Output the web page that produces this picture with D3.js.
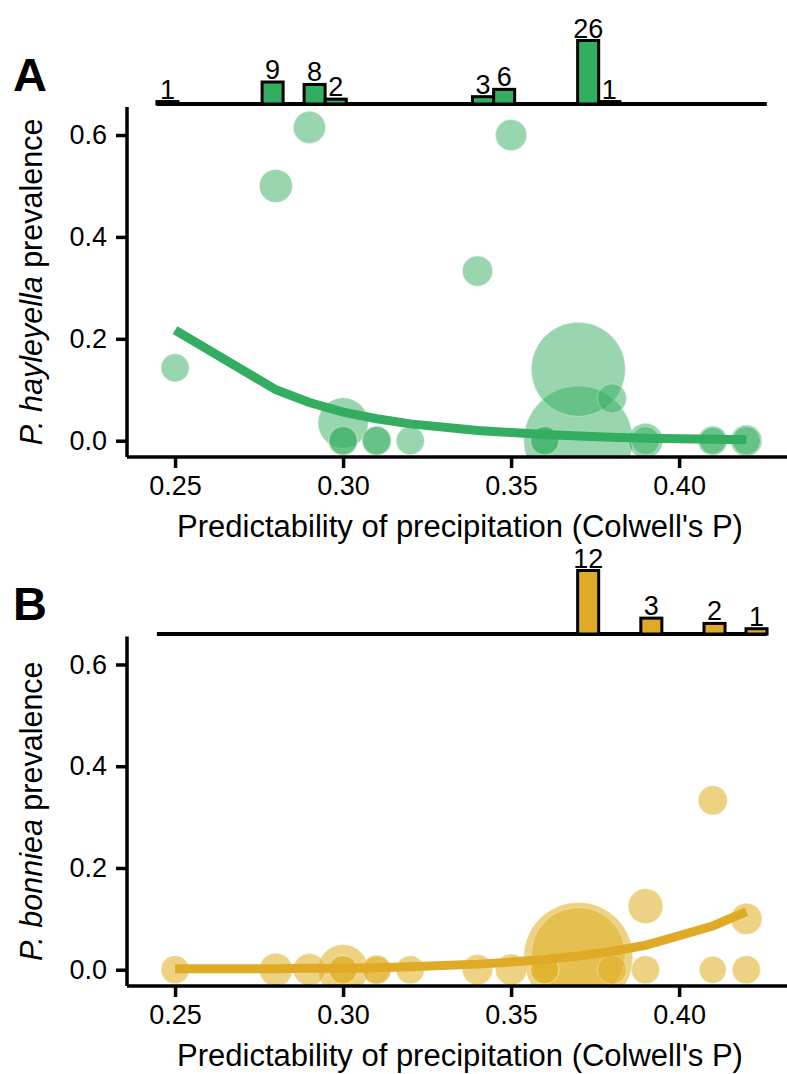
<!DOCTYPE html>
<html>
<head>
<meta charset="utf-8">
<script src="https://cdn.jsdelivr.net/npm/d3@7"></script>
<style>
  body { margin: 0; background: #fff; }
  text { font-family: "Liberation Sans", Arial, sans-serif; fill: #000; }
</style>
</head>
<body>
<script>
// sites (same sites in both panels), sample size drives the bubble size
var siteX = [0.25, 0.28, 0.29, 0.30, 0.30, 0.30, 0.31, 0.31, 0.32, 0.34, 0.35, 0.36, 0.36, 0.37, 0.37, 0.38, 0.39, 0.39, 0.41, 0.41, 0.42, 0.42];
var siteN = [7, 12, 11, 40, 8, 7, 8, 7, 7, 9, 10, 8, 7, 186, 260, 8, 14, 7, 8, 6, 10, 7];
var prevA = [0.143, 0.50, 0.615, 0.035, 0, 0, 0, 0, 0, 0.333, 0.60, 0, 0, 0.14, 0, 0.083, 0, 0, 0, 0, 0, 0];
var prevB = [0, 0, 0, 0, 0, 0, 0, 0, 0, 0, 0, 0, 0, 0.03, 0.025, 0, 0.125, 0, 0.333, 0, 0.10, 0];

// fitted curves
var fitX = [0.25, 0.28, 0.29, 0.30, 0.31, 0.32, 0.34, 0.35, 0.36, 0.37, 0.38, 0.39, 0.41, 0.42];
var fitA = [0.217, 0.100, 0.075, 0.056, 0.043, 0.033, 0.020, 0.016, 0.012, 0.009, 0.007, 0.005, 0.003, 0.002];
var fitB = [0.002, 0.002, 0.003, 0.003, 0.004, 0.006, 0.011, 0.015, 0.020, 0.027, 0.036, 0.048, 0.086, 0.114];

// marginal histograms of infected counts (bin start, count)
var histStart = 0.2446, histEnd = 0.4261, binW = 0.00626;
var binsA = [0.2446, 0.2759, 0.2884, 0.2947, 0.3385, 0.3448, 0.3698, 0.3761];
var countsA = [1, 9, 8, 2, 3, 6, 26, 1];
var binsB = [0.3698, 0.3886, 0.4074, 0.4199];
var countsB = [12, 3, 2, 1];

var xTicks = [0.25, 0.30, 0.35, 0.40];
var yTicks = [0, 0.2, 0.4, 0.6];
var xTitle = "Predictability of precipitation (Colwell's P)";

var W = 787, H = 1074;
var svg = d3.select("body").append("svg").attr("width", W).attr("height", H);

var x = d3.scaleLinear().domain([0.2357, 0.4321]).range([127, 787]);
var r = d3.scalePow().exponent(0.5).domain([6, 260]).range([13.5, 54.5]);

var panels = [
    {label: "A", species: "hayleyella", prev: prevA, fit: fitA, bins: binsA, counts: countsA,
     color: "#33ad60", ptColor: "#33ad60", ptAlpha: 0.5, top: 107, bottom: 457, histBase: 104, labelY: 91},
    {label: "B", species: "bonniea", prev: prevB, fit: fitB, bins: binsB, counts: countsB,
     color: "#dfaa26", ptColor: "#e0b22a", ptAlpha: 0.58, top: 636.5, bottom: 986, histBase: 634, labelY: 620}
];

panels.forEach(function(p, i) {
    var y = d3.scaleLinear().domain([-0.032, 0.655]).range([p.bottom, p.top]);
    var g = svg.append("g");

    // clip the bubbles to the panel
    svg.append("clipPath").attr("id", "clip" + i)
        .append("rect").attr("x", 127).attr("y", p.top)
        .attr("width", 787 - 127).attr("height", p.bottom - p.top);

    var sites = siteX.map(function(v, k) { return {x: v, n: siteN[k], p: p.prev[k]}; });
    // big ones first so small ones sit on top
    sites.sort(function(a, b) { return b.n - a.n; });

    g.append("g").attr("clip-path", "url(#clip" + i + ")")
        .selectAll("circle").data(sites).enter().append("circle")
        .attr("cx", function(d) { return x(d.x); })
        .attr("cy", function(d) { return y(d.p); })
        .attr("r", function(d) { return r(d.n); })
        .style("fill", p.ptColor).style("fill-opacity", p.ptAlpha)
        .style("stroke", "#fff").style("stroke-opacity", 0.35).style("stroke-width", 1);

    // fitted line
    var line = d3.line()
        .x(function(d, k) { return x(fitX[k]); })
        .y(function(d) { return y(d); });
    g.append("path").datum(p.fit)
        .attr("d", line)
        .style("fill", "none").style("stroke", p.color).style("stroke-width", 9);

    // axes
    var yAxis = d3.axisLeft(y).tickValues(yTicks).tickFormat(d3.format(".1f")).tickSize(11).tickPadding(9);
    var xAxis = d3.axisBottom(x).tickValues(xTicks).tickFormat(d3.format(".2f")).tickSize(11).tickPadding(8);

    var ya = g.append("g").attr("transform", "translate(127,0)").call(yAxis);
    var xa = g.append("g").attr("transform", "translate(0," + p.bottom + ")").call(xAxis);
    [ya, xa].forEach(function(a) {
        a.select(".domain").style("stroke", "#000").style("stroke-width", 3.5);
        a.selectAll(".tick line").style("stroke", "#000").style("stroke-width", 3.5);
        a.selectAll(".tick text").style("font-size", "27px").style("fill", "#000")
            .style("font-family", '"Liberation Sans", Arial, sans-serif');
    });
    // ggplot style: no outer ticks on the domain path
    ya.select(".domain").attr("d", "M0," + p.top + "V" + p.bottom);
    xa.select(".domain").attr("d", "M127,0H787");

    // axis titles
    g.append("text")
        .attr("x", 460).attr("y", p.bottom + 80)
        .style("text-anchor", "middle").style("font-size", "31px")
        .text(xTitle);

    var yt = g.append("text")
        .attr("transform", "translate(42," + ((p.top + p.bottom) / 2) + ") rotate(-90)")
        .style("text-anchor", "middle").style("font-size", "30.5px");
    yt.append("tspan").style("font-style", "italic").text("P. " + p.species);
    yt.append("tspan").text(" prevalence");

    // panel letter
    g.append("text").attr("x", 13).attr("y", p.labelY)
        .style("font-size", "47px").style("font-weight", "bold").text(p.label);

    // marginal histogram
    var hy = d3.scaleLinear().domain([0, d3.max(p.counts)]).range([0, 63.5]);
    var bars = p.bins.map(function(b, k) { return {x0: b, n: p.counts[k]}; });

    g.append("line")
        .attr("x1", x(histStart)).attr("x2", x(histEnd))
        .attr("y1", p.histBase).attr("y2", p.histBase)
        .style("stroke", "#000").style("stroke-width", 4);

    var hb = g.append("g").selectAll("g").data(bars).enter().append("g");
    hb.append("rect")
        .attr("x", function(d) { return x(d.x0); })
        .attr("width", function(d) { return x(d.x0 + binW) - x(d.x0); })
        .attr("y", function(d) { return p.histBase - hy(d.n); })
        .attr("height", function(d) { return hy(d.n); })
        .style("fill", p.color).style("stroke", "#000").style("stroke-width", 3);
    hb.append("text")
        .attr("x", function(d) { return x(d.x0 + binW / 2); })
        .attr("y", function(d) { return p.histBase - hy(d.n) - 3; })
        .style("text-anchor", "middle").style("font-size", "27px")
        .text(function(d) { return d.n; });
});
</script>
</body>
</html>
